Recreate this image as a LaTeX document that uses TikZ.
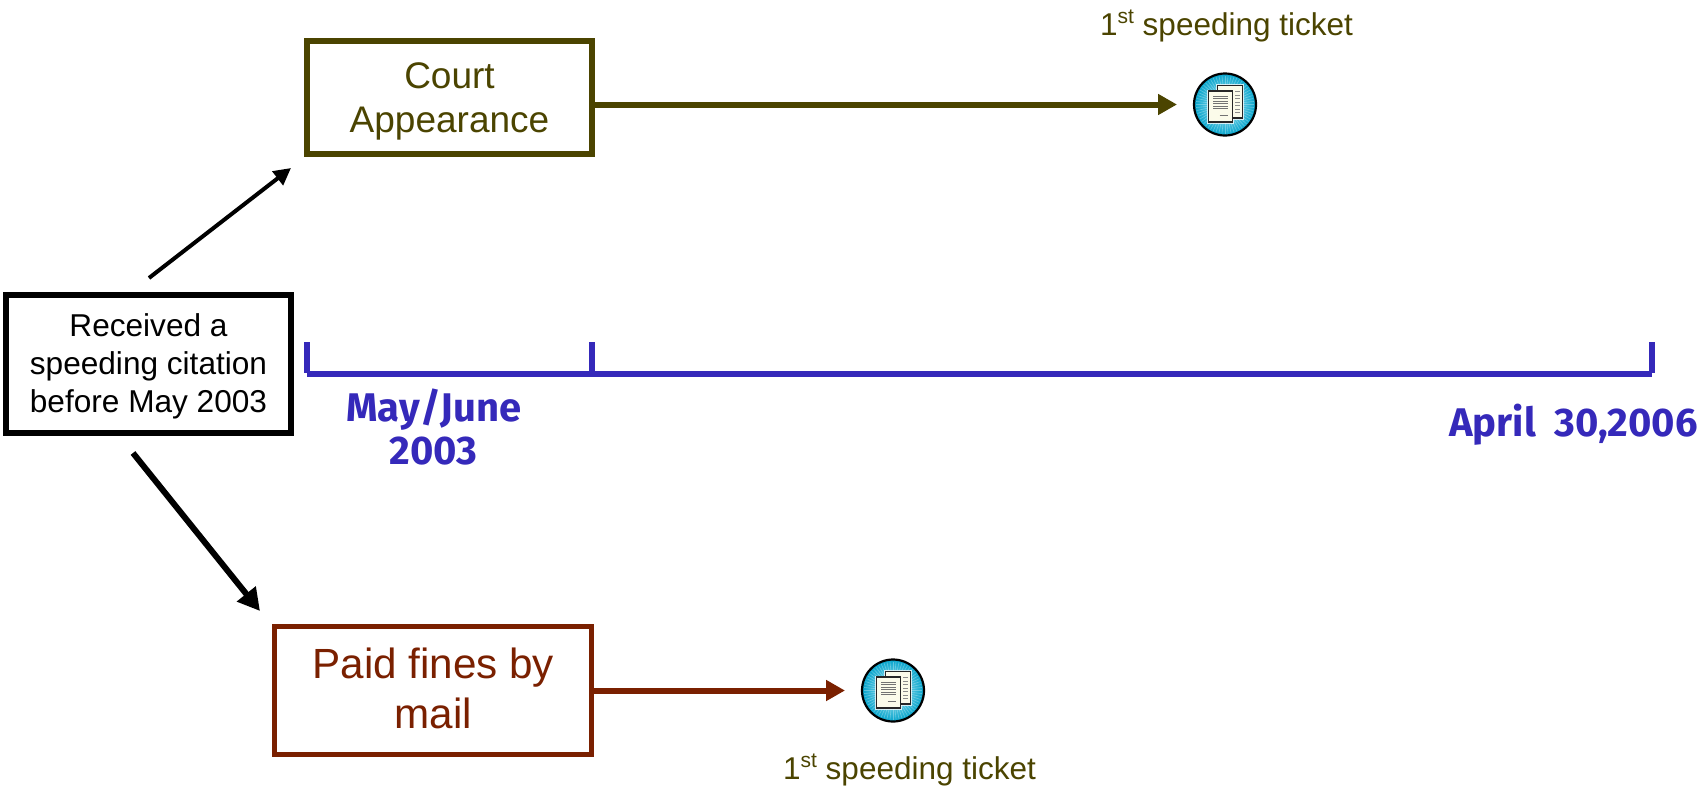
\documentclass[tikz,border=0pt]{standalone}
\usepackage{fontspec}
\setmainfont{Liberation Sans}
\newfontfamily\handfont{Fira Sans}
\usetikzlibrary{arrows.meta,calc}
\definecolor{olive}{HTML}{4B4400}
\definecolor{rust}{HTML}{7A2000}
\definecolor{tlblue}{HTML}{3529BA}
\definecolor{icona}{HTML}{05A3CB}
\definecolor{iconb}{HTML}{B4EEF7}
\definecolor{paper}{HTML}{FBFBEA}
\newcommand{\st}{\raisebox{0.36em}{\fontsize{21}{21}\selectfont st}}
\tikzset{
  x=1pt,y=-1pt,
  boxed/.style={draw,fill=white,align=center,inner sep=0pt,outer sep=0pt,rectangle},
  flow/.style={-{Triangle[length=19pt,width=20pt]},line width=6pt,shorten >=17pt},
  axis/.style={draw=tlblue,line width=6pt},
  datelabel/.style={text=tlblue,font=\handfont\bfseries\fontsize{40}{44}\selectfont,align=center,anchor=base,inner sep=0pt},
  ticketlabel/.style={text=olive,font=\fontsize{31.5}{36}\selectfont,anchor=base,inner sep=0pt},
  docsheet/.style={draw=black!85,line width=1.5pt,fill=paper},
  docicon/.pic={
    \node[circle,minimum size=62pt,inner sep=0pt,outer sep=0pt,draw=black,line width=2.2pt,
          inner color=iconb,outer color=icona] (-c) at (0,0) {};
    \foreach \a in {0,6,...,354}{\draw[white,opacity=.3,line width=.6pt] (\a:13) -- (\a:29);}
    \fill[white,opacity=.75] (-9.5,-21) rectangle (19,15);
    \fill[white,opacity=.75] (-18.5,-15) rectangle (9,19.5);
    \draw[docsheet] (-7.5,-19) rectangle (17.5,13.5);
    \foreach \yy in {-13,-9.5,...,8}{\draw[black!45,line width=.8pt] (10,\yy) -- (14.5,\yy);}
    \draw[docsheet] (-16.5,-13.3) rectangle (7.5,17.7);
    \foreach \yy in {-8.5,-6,...,6}{\draw[black!55,line width=.9pt] (-11.7,\yy) -- (2.8,\yy);}
    \draw[black!55,line width=.9pt] (-5.5,11) -- (2.8,11);
  }
}
\begin{document}
\begin{tikzpicture}
\useasboundingbox (0,0) rectangle (1700,785);

\node[boxed,draw=black,line width=6pt,minimum width=285pt,minimum height=138pt,
      font=\fontsize{31.6}{38}\selectfont,text height=102pt,text depth=6pt] (cite) at (148.5,364) {Received a\\speeding citation\\before May 2003};
\node[boxed,draw=olive,text=olive,line width=6pt,minimum width=285pt,minimum height=113pt,
      font=\fontsize{37}{44}\selectfont,text height=75pt,text depth=6pt] (court) at (449.5,97.5) {Court\\Appearance};
\node[boxed,draw=rust,text=rust,line width=5pt,minimum width=317pt,minimum height=128pt,
      font=\fontsize{42.2}{50}\selectfont,text height=82pt,text depth=7pt] (paid) at (433.25,690.5) {Paid fines by\\mail};

\pic (iconA) at (1225,104.5) {docicon};
\pic (iconB) at (893,690.5) {docicon};

\node[ticketlabel] (ticketA) at (1226.5,35) {1\st{} speeding ticket};
\node[ticketlabel] (ticketB) at (909.5,779) {1\st{} speeding ticket};

\draw[flow,draw=olive,fill=olive] ([yshift=-7pt]court.east) -- (iconA-c.west);
\draw[flow,draw=rust,fill=rust] (paid.east) -- (iconB-c.west);

\coordinate (upStart) at (149,278);
\coordinate (upEnd) at (291,168);
\coordinate (downStart) at (133,453);
\coordinate (downEnd) at (260,611);
\draw[-{Triangle[length=17pt,width=17pt]},line width=4pt] (upStart) -- (upEnd);
\draw[-{Triangle[length=22pt,width=23pt]},line width=6pt] (downStart) -- (downEnd);

\coordinate (t1) at (307,374);
\coordinate (t2) at (592,374);
\coordinate (t3) at (1652,374);
\draw[axis] (t1) -- (t3);
\draw[axis] (307,342) -- (307,373);
\draw[axis] (592,342) -- (592,373);
\draw[axis] (1652,342) -- (1652,373);

\node[datelabel] (mayjune) at (434,421) {May/June};
\node[datelabel] (may03) at (433.5,464) {2003};
\node[datelabel] (april) at (1573.5,436) {April\ \kern9pt 30,2006};
\end{tikzpicture}
\end{document}
